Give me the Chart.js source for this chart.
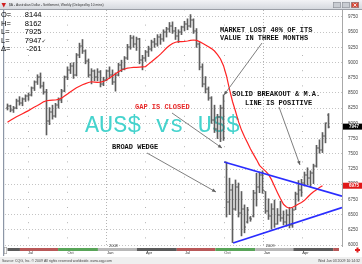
<!DOCTYPE html>
<html>
<head>
<meta charset="utf-8">
<title>$A - Australian Dollar - Settlement, Weekly</title>
<script src="https://cdn.jsdelivr.net/npm/chart.js@4.4.0/dist/chart.umd.min.js"></script>
<style>
  html, body { margin: 0; padding: 0; background: #fff; overflow: hidden; }
  #wrap { position: relative; width: 362px; height: 264px; }
  canvas { display: block; }
</style>
</head>
<body>
<div id="wrap"><canvas id="c" width="362" height="264"></canvas></div>
<script>
// Weekly bars; week 0 starts Monday 2007-05-14, one bar per week.
const firstWeek = '2007-05-14';

const open = [8260,8290,8220,8260,8370,8330,8400,8450,8470,8580,
  8680,8760,8620,8520,8040,8180,8120,8300,8380,8540,
  8760,8880,8940,8800,9120,9280,9190,9020,8800,8860,
  8760,8850,8640,8720,8860,8790,8680,8800,8960,8900,
  9080,9260,9400,9300,9380,9050,9080,9170,9230,9340,
  9300,9420,9380,9500,9560,9610,9520,9430,9500,9580,
  9640,9600,9700,9520,9300,8930,8650,8560,8420,8060,
  7900,8100,8250,7360,6700,6900,6600,6950,6520,6600,
  6380,6450,6470,6850,6950,7150,6880,6560,6480,6600,
  6350,6500,6450,6380,6500,6330,6580,6840,6900,7020,
  7150,7100,7180,7300,7600,7560,7800,8144];
const high = [8320,8300,8280,8400,8440,8420,8470,8500,8600,8700,
  8800,8830,8680,8560,8260,8300,8330,8420,8560,8780,
  8930,8990,9000,9150,9320,9380,9210,9060,8900,8880,
  8900,8870,8760,8880,8930,8880,8830,8990,9040,9100,
  9300,9450,9440,9420,9400,9120,9200,9270,9370,9400,
  9460,9470,9540,9580,9660,9670,9580,9540,9600,9680,
  9720,9790,9720,9560,9330,8980,8770,8600,8440,8300,
  8150,8300,8470,7365,7100,7000,7070,7020,6880,6660,
  6620,6470,6900,7180,7200,7220,6880,6760,6680,6740,
  6600,6720,6560,6580,6620,6610,6870,7060,7080,7200,
  7270,7220,7330,7640,7730,7850,8010,8162];
const low = [8220,8190,8180,8240,8300,8290,8360,8380,8450,8540,
  8640,8580,8480,7810,7980,8070,8100,8250,8340,8520,
  8720,8820,8740,8780,9080,9150,8980,8760,8650,8700,
  8700,8600,8620,8700,8740,8640,8530,8780,8850,8880,
  9050,9220,9250,9200,8980,8880,9020,9100,9190,9250,
  9270,9300,9350,9420,9500,9480,9380,9330,9460,9520,
  9540,9580,9480,9250,8880,8600,8500,8380,8000,7850,
  7750,7700,7720,6460,6500,6040,6570,6460,6150,6200,
  6360,6390,6460,6640,6860,6850,6520,6420,6260,6290,
  6340,6390,6330,6310,6280,6290,6580,6720,6800,6970,
  6990,6960,7010,7280,7510,7520,7680,7925];
const close = [8290,8220,8260,8370,8330,8400,8450,8470,8580,8680,
  8760,8620,8520,8040,8180,8120,8300,8380,8540,8760,
  8880,8940,8800,9120,9280,9190,9020,8800,8860,8760,
  8850,8640,8720,8860,8790,8680,8800,8960,8900,9080,
  9260,9400,9300,9380,9050,9080,9170,9230,9340,9300,
  9420,9380,9500,9560,9610,9520,9430,9500,9580,9640,
  9600,9700,9520,9300,8930,8650,8560,8420,8060,7900,
  8100,8250,7760,6700,6900,6600,6950,6520,6600,6300,
  6580,6420,6850,6950,7150,6900,6560,6480,6600,6350,
  6500,6450,6380,6500,6330,6580,6840,6900,7020,7150,
  7100,7180,7300,7600,7560,7800,8000,7947];

// Moving average of the settlement (weeks 0..105)
const movingAvg = [8020,8050,8080,8110,8135,8160,8185,8210,8240,8270,
  8295,8325,8355,8372,8380,8382,8385,8395,8415,8450,
  8485,8520,8555,8585,8610,8635,8655,8672,8685,8680,
  8675,8680,8690,8715,8745,8780,8815,8850,8878,8895,
  8908,8915,8920,8923,8926,8930,8935,8975,9015,9055,
  9095,9140,9190,9240,9280,9315,9335,9344,9346,9348,
  9355,9365,9372,9365,9345,9318,9290,9260,9230,9190,
  9130,9060,8950,8780,8560,8360,8200,8030,7890,7780,
  7680,7580,7490,7405,7310,7260,7215,7160,7075,6965,
  6860,6760,6670,6625,6605,6620,6645,6675,6700,6735,
  6785,6835,6875,6910,6945,6975];

// Wedge trend lines: week index and price at each end
const wedgeTopWeeks = [72.2, 111.5];
const wedgeTopPrices = [7365, 6802];
const wedgeBottomWeeks = [75.2, 111.5];
const wedgeBottomPrices = [6033, 6614];

// Axis labels
const priceTicks = [6000,6250,6500,6750,7000,7250,7500,7750,8000,8250,8500,8750,9000,9250,9500,9750];
const quarterDates = ['2007-07-01','2007-10-01','2008-01-01','2008-04-01','2008-07-01','2008-10-01','2009-01-01','2009-04-01'];
const quarterLabels = ['Jul','Oct','Jan','Apr','Jul','Oct','Jan','Apr'];
const yearDates = ['2008-01-01','2009-01-01'];
const yearLabels = ['2008','2009'];

// Contract periods shown in the strip under the plot
const contractStarts = ['2007-05-14','2007-06-12','2007-09-09','2007-12-11','2008-03-11','2008-06-12','2008-09-10','2008-12-12','2009-03-11','2009-06-12'];
const contractColors = ['#5b5b5b','#b85858','#58a458','#b8b8b8','#5b5b5b','#b85858','#58a458','#b8b8b8','#5b5b5b','#b85858'];

// Header read-out for the latest bar
const infoLabels = ['O=','H=','L=','L=','\u0394='];
const netChange = -261;

const DAY = 864e5;
function weekOf(iso) {
  const p = s => { const [y, m, d] = s.split('-').map(Number); return Date.UTC(y, m - 1, d); };
  return (p(iso) - p(firstWeek)) / (7 * DAY);
}
const weeks = open.map((_, i) => i);
const yearWeeks = yearDates.map(weekOf);

const SANS = "'Liberation Sans', Arial, sans-serif";
const MONO = "'Liberation Mono', 'DejaVu Sans Mono', monospace";

function arrow(ctx, x1, y1, x2, y2) {
  ctx.save();
  ctx.strokeStyle = '#707070';
  ctx.fillStyle = '#606060';
  ctx.lineWidth = 0.9;
  ctx.beginPath(); ctx.moveTo(x1, y1); ctx.lineTo(x2, y2); ctx.stroke();
  const a = Math.atan2(y2 - y1, x2 - x1), L = 4, W = 1.8;
  ctx.beginPath();
  ctx.moveTo(x2, y2);
  ctx.lineTo(x2 - L * Math.cos(a) + W * Math.sin(a), y2 - L * Math.sin(a) - W * Math.cos(a));
  ctx.lineTo(x2 - L * Math.cos(a) - W * Math.sin(a), y2 - L * Math.sin(a) + W * Math.cos(a));
  ctx.closePath(); ctx.fill();
  ctx.restore();
}

const decor = {
  id: 'decor',
  beforeDraw(chart) {
    const ctx = chart.ctx;
    ctx.save();
    ctx.fillStyle = '#ffffff';
    ctx.fillRect(0, 0, chart.width, chart.height);
    // window title bar
    const g = ctx.createLinearGradient(0, 0, 0, 10);
    g.addColorStop(0, '#f2f3f6'); g.addColorStop(1, '#d2d6dc');
    ctx.fillStyle = g; ctx.fillRect(0, 0, chart.width, 10);
    ctx.fillStyle = '#9a9ea6'; ctx.fillRect(0, 9, chart.width, 1);
    ctx.fillStyle = '#d02020';
    ctx.beginPath(); ctx.moveTo(1.5, 3); ctx.lineTo(6, 3); ctx.lineTo(3.75, 7.5); ctx.closePath(); ctx.fill();
    ctx.fillStyle = '#333'; ctx.font = '3.3px ' + SANS; ctx.textBaseline = 'middle';
    ctx.fillText('$A - Australian Dollar - Settlement, Weekly (Delayed by 10 mins)', 9, 5);
    [[333, '#c8ccd2'], [342, '#c8ccd2'], [351, '#d84a3a']].forEach(([bx, c]) => {
      ctx.fillStyle = c; ctx.fillRect(bx, 2, 8, 6);
      ctx.strokeStyle = '#8a8e96'; ctx.lineWidth = 0.6; ctx.strokeRect(bx + 0.3, 2.3, 7.4, 5.4);
    });
    ctx.strokeStyle = '#fff'; ctx.lineWidth = 0.8;
    ctx.beginPath(); ctx.moveTo(353.5, 3.5); ctx.lineTo(356.5, 6.5); ctx.moveTo(356.5, 3.5); ctx.lineTo(353.5, 6.5); ctx.stroke();
    // footer strip
    ctx.fillStyle = '#efefef'; ctx.fillRect(0, 257, chart.width, 7);
    ctx.fillStyle = '#444'; ctx.font = '3.5px ' + SANS; ctx.textBaseline = 'middle';
    ctx.fillText('Source: CQG, Inc. \u00a9 2009 All rights reserved worldwide. www.cqg.com', 2, 261);
    ctx.textAlign = 'right';
    ctx.fillText('Wed Jun 03 2009 10:14:32', 360, 261);
    ctx.restore();
  },
  beforeDatasetsDraw(chart) {
    const ctx = chart.ctx;
    ctx.save();
    ctx.fillStyle = '#45d3cd';
    ctx.font = '23.5px ' + MONO;
    ctx.textBaseline = 'alphabetic';
    ctx.fillText('AUS$ vs US$', 85, 132);
    ctx.restore();
  },
  afterDatasetsDraw(chart) {
    const ctx = chart.ctx, x = chart.scales.x, y = chart.scales.y;
    const area = chart.chartArea;
    ctx.save();
    ctx.beginPath(); ctx.rect(area.left, area.top, area.right - area.left, area.bottom - area.top); ctx.clip();
    ctx.fillStyle = '#5e5e5e';
    weeks.forEach(i => {
      const px = x.getPixelForValue(i);
      ctx.fillRect(px - 1.5, Math.round(y.getPixelForValue(open[i])) - 0.5, 1, 1);
      ctx.fillRect(px + 0.5, Math.round(y.getPixelForValue(close[i])) - 0.5, 1, 1);
    });
    ctx.restore();
  },
  afterDraw(chart) {
    const ctx = chart.ctx, x = chart.scales.x, y = chart.scales.y;
    const area = chart.chartArea;
    ctx.save();
    // left edge rule
    ctx.fillStyle = '#8c96a6'; ctx.fillRect(3, area.top, 1.2, area.bottom - area.top + 10);
    // contract strip
    const bandTop = area.bottom + 2;
    contractStarts.forEach((d, k) => {
      let x0 = Math.max(x.getPixelForValue(weekOf(d)), area.left + 2);
      let x1 = k + 1 < contractStarts.length ? x.getPixelForValue(weekOf(contractStarts[k + 1])) : area.right - 3;
      x1 = Math.min(x1, area.right - 3);
      if (x1 > x0) { ctx.fillStyle = contractColors[k]; ctx.fillRect(x0, bandTop, x1 - x0, 3); }
    });
    ctx.fillStyle = '#fff'; ctx.strokeStyle = '#999'; ctx.lineWidth = 0.6;
    ctx.fillRect(4, bandTop - 1, 3, 7); ctx.strokeRect(4.3, bandTop - 0.7, 2.4, 6.4);
    // year labels
    ctx.fillStyle = '#333'; ctx.font = '4px ' + SANS; ctx.textBaseline = 'middle';
    yearLabels.forEach((t, k) => ctx.fillText(t, x.getPixelForValue(yearWeeks[k]) + 2, area.bottom - 0.5));
    // scroll marker
    ctx.fillStyle = '#e02020';
    ctx.fillRect(355, bandTop + 1, 5, 2); ctx.fillRect(356.5, bandTop - 0.5, 2, 5);
    // price boxes on the axis
    const last = close.length - 1;
    const boxes = [[close[last], '#000000'], [movingAvg[movingAvg.length - 1], '#e01818']];
    boxes.forEach(([v, c]) => {
      const py = y.getPixelForValue(v);
      ctx.fillStyle = c; ctx.fillRect(area.right + 1, py - 3, 20, 6);
      ctx.fillStyle = '#fff'; ctx.font = 'bold 4.5px ' + SANS; ctx.textAlign = 'left';
      ctx.fillText(String(Math.round(v)), area.right + 7, py + 0.3);
    });
    // latest bar read-out
    const infoValues = [open[last], high[last], low[last], close[last], netChange];
    ctx.fillStyle = '#000'; ctx.font = '7.5px ' + SANS; ctx.textBaseline = 'middle';
    infoLabels.forEach((lab, k) => {
      const ty = 15 + k * 8.55;
      ctx.textAlign = 'left'; ctx.fillText(lab, 1, ty);
      ctx.textAlign = 'right'; ctx.fillText(String(infoValues[k]), 41.5, ty);
    });
    ctx.strokeStyle = '#444'; ctx.lineWidth = 0.7;
    ctx.beginPath(); ctx.moveTo(42.3, 41.2); ctx.lineTo(43, 42.2); ctx.lineTo(44.8, 39.6); ctx.stroke();
    // commentary
    ctx.textAlign = 'left'; ctx.textBaseline = 'middle';
    ctx.font = 'bold 7px ' + MONO;
    ctx.fillStyle = '#111';
    ctx.fillText('MARKET LOST 40% OF ITS', 220, 30);
    ctx.fillText('VALUE IN THREE MONTHS', 220, 38);
    ctx.fillText('SOLID BREAKOUT & M.A.', 232, 94);
    ctx.fillText('LINE IS POSITIVE', 245, 103);
    ctx.fillText('BROAD WEDGE', 112, 147.5);
    ctx.fillStyle = '#e82828';
    ctx.fillText('GAP IS CLOSED', 135, 107);
    arrow(ctx, 262, 43, 224, 95);
    arrow(ctx, 279, 107, 300, 165);
    arrow(ctx, 172, 113, 222, 148);
    arrow(ctx, 147, 153, 216, 192);
    ctx.restore();
  }
};

const yearSet = new Set(yearWeeks.map(w => w.toFixed(4)));

new Chart(document.getElementById('c'), {
  type: 'bar',
  data: {
    datasets: [
      {
        type: 'line', label: 'Wedge top', order: 1,
        data: wedgeTopWeeks.map((w, i) => ({ x: w, y: wedgeTopPrices[i] })),
        borderColor: '#2a2cff', borderWidth: 1.8, pointRadius: 0
      },
      {
        type: 'line', label: 'Wedge bottom', order: 1,
        data: wedgeBottomWeeks.map((w, i) => ({ x: w, y: wedgeBottomPrices[i] })),
        borderColor: '#2a2cff', borderWidth: 1.8, pointRadius: 0
      },
      {
        type: 'line', label: 'Moving average', order: 2,
        data: movingAvg.map((v, i) => ({ x: i, y: v })),
        borderColor: '#ff2424', borderWidth: 1.2, pointRadius: 0, tension: 0
      },
      {
        type: 'bar', label: 'Range', order: 3,
        data: weeks.map(i => ({ x: i, y: [low[i], high[i]] })),
        backgroundColor: '#5e5e5e', borderWidth: 0, barThickness: 1
      }
    ]
  },
  options: {
    responsive: false,
    animation: false,
    events: [],
    layout: { padding: { top: 10, left: 5, right: 0, bottom: 0 } },
    plugins: { legend: { display: false }, tooltip: { enabled: false } },
    scales: {
      x: {
        type: 'linear', min: -0.8333, max: 111.5, offset: false,
        afterFit: s => { s.height = 18; },
        afterBuildTicks: s => { s.ticks = quarterDates.map(d => ({ value: weekOf(d) })); },
        grid: { offset: false, drawTicks: false, color: '#b4b4b4', lineWidth: 1 },
        border: {
          display: false,
          dash: c => (c.tick && yearSet.has(c.tick.value.toFixed(4))) ? [1, 2] : [1, 14.2],
          dashOffset: c => (c.tick && yearSet.has(c.tick.value.toFixed(4))) ? 0 : 0.6
        },
        ticks: {
          autoSkip: false, maxRotation: 0, align: 'start', padding: 4.5,
          color: '#333', font: { size: 4, family: SANS },
          callback: (v, i) => quarterLabels[i]
        }
      },
      y: {
        position: 'right', min: 5983.6, max: 9865.1,
        afterFit: s => { s.width = 20; },
        afterBuildTicks: s => { s.ticks = priceTicks.map(v => ({ value: v })); },
        grid: { drawTicks: false, color: '#c4c4c4', lineWidth: 1 },
        border: { display: true, color: '#a8a8a8', width: 1, dash: [1, 2] },
        ticks: {
          padding: 6, color: '#444', font: { size: 4.5, family: SANS },
          callback: v => String(v)
        }
      }
    }
  },
  plugins: [decor]
});
</script>
</body>
</html>
